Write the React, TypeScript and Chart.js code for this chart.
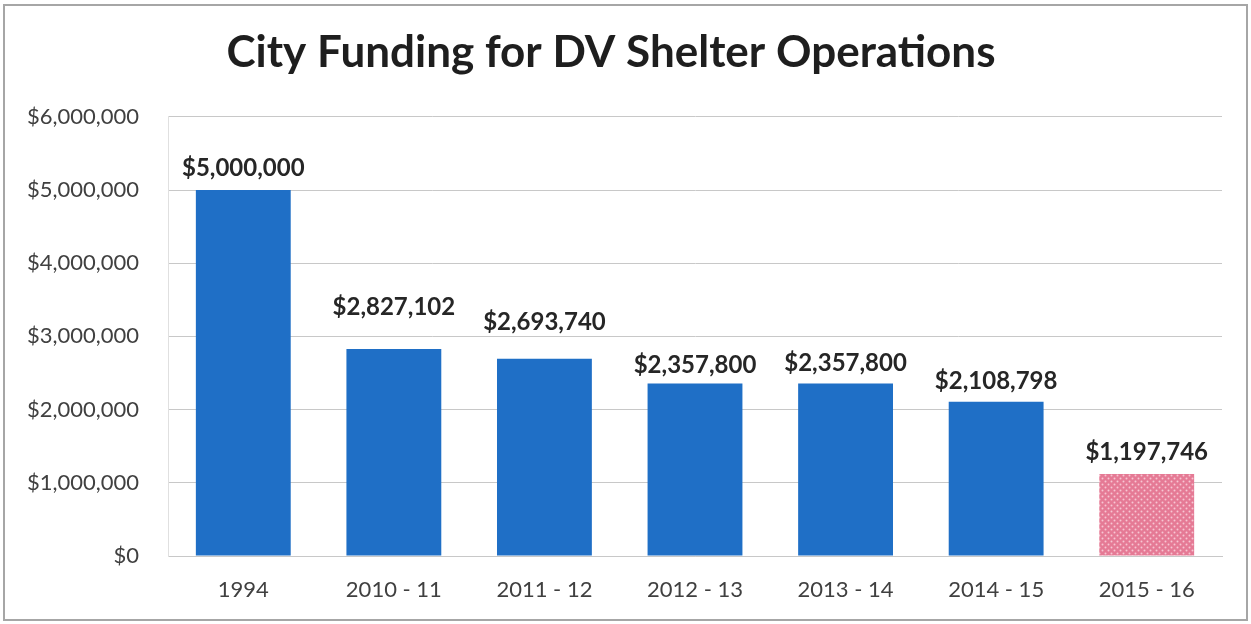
import { useEffect, useRef } from "react";
import { Chart, registerables } from "chart.js";

Chart.register(...registerables);

const categories = ["1994", "2010 - 11", "2011 - 12", "2012 - 13", "2013 - 14", "2014 - 15", "2015 - 16"];
// bar heights as drawn in the picture
const fundingValues = [5000000, 2827102, 2693740, 2357800, 2357800, 2108798, 1120000];
// amounts printed above the bars
const printedAmounts = [5000000, 2827102, 2693740, 2357800, 2357800, 2108798, 1197746];
const yTickValues = [0, 1000000, 2000000, 3000000, 4000000, 5000000, 6000000];
const titleText = "City Funding for DV Shelter Operations";

const FONT = "Lato, 'Open Sans', sans-serif";
const BLUE = "#1f6fc6";
const labelLift = [22, 42, 37, 18, 20, 20, 22];

function money(v: number) {
  return "$" + v.toLocaleString("en-US");
}

function makePattern(): CanvasPattern | string {
  const c = document.createElement("canvas");
  c.width = 6;
  c.height = 6;
  const g = c.getContext("2d");
  if (!g) return "#e2738f";
  g.fillStyle = "#e57a95";
  g.fillRect(0, 0, 6, 6);
  g.fillStyle = "#f7c6d3";
  for (const [x, y] of [[1.5, 1.5], [4.5, 4.5]]) {
    g.beginPath();
    g.arc(x, y, 1.0, 0, Math.PI * 2);
    g.fill();
  }
  const p = g.createPattern(c, "repeat");
  return p || "#e2738f";
}

export default function App() {
  const ref = useRef<HTMLCanvasElement | null>(null);
  useEffect(() => {
    document.body.style.margin = "0";
    const canvas = ref.current;
    if (!canvas) return;
    const pattern = makePattern();
    const colors = fundingValues.map((_, i) => (i === fundingValues.length - 1 ? pattern : BLUE));

    const frame = {
      id: "frame",
      beforeDraw(chart: any) {
        const ctx = chart.ctx;
        ctx.save();
        ctx.fillStyle = "#ffffff";
        ctx.fillRect(0, 0, chart.width, chart.height);
        ctx.strokeStyle = "#a6a6a6";
        ctx.lineWidth = 2;
        ctx.strokeRect(4, 5, 1243, 615);
        ctx.restore();
      },
    };

    const dataLabels = {
      id: "dataLabels",
      afterDatasetsDraw(chart: any) {
        const ctx = chart.ctx;
        const meta = chart.getDatasetMeta(0);
        ctx.save();
        ctx.font = `bold 24px ${FONT}`;
        ctx.fillStyle = "#262626";
        ctx.textAlign = "center";
        ctx.textBaseline = "middle";
        meta.data.forEach((bar: any, i: number) => {
          ctx.fillText(money(printedAmounts[i]), bar.x, bar.y - labelLift[i]);
        });
        ctx.restore();
      },
    };

    const chart = new Chart(canvas, {
      type: "bar",
      data: {
        labels: categories,
        datasets: [
          {
            data: fundingValues,
            backgroundColor: colors as any,
            borderWidth: 0,
            categoryPercentage: 1,
            barPercentage: 0.63,
          },
        ],
      },
      options: {
        responsive: false,
        animation: false,
        layout: { padding: { left: 0, right: 29, top: 0, bottom: 0 } },
        plugins: {
          legend: { display: false },
          tooltip: { enabled: false },
          title: {
            display: true,
            text: titleText,
            color: "#1e1e1e",
            font: { family: FONT, size: 44, weight: "bold" },
            padding: { top: 26, bottom: 38 },
          },
        },
        scales: {
          x: {
            grid: { display: false, drawTicks: false },
            border: { display: true, color: "#c8c8c8", width: 1 },
            ticks: {
              color: "#404040",
              font: { family: FONT, size: 22 },
              padding: 21,
            },
            afterFit(scale: any) {
              scale.height = 68;
            },
          },
          y: {
            min: 0,
            max: 6000000,
            afterBuildTicks(scale: any) {
              scale.ticks = yTickValues.map((v) => ({ value: v }));
            },
            grid: { color: "#c8c8c8", lineWidth: 1, drawTicks: false },
            border: { display: true, color: "#e0e0e0" },
            ticks: {
              color: "#404040",
              font: { family: FONT, size: 22 },
              padding: 29,
              callback: (v: any) => money(Number(v)),
            },
            afterFit(scale: any) {
              scale.width = 168;
            },
          },
        },
      },
      plugins: [frame, dataLabels],
    });
    return () => chart.destroy();
  }, []);
  return <canvas ref={ref} width={1251} height={624} style={{ display: "block" }} />;
}
